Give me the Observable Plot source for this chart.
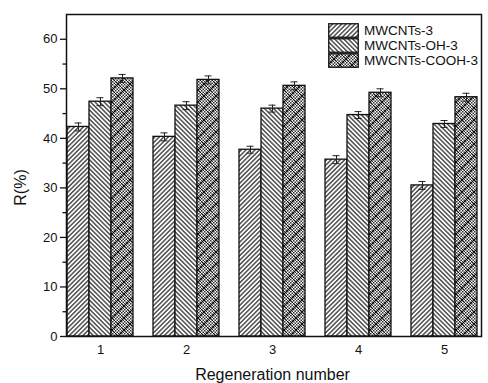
<!DOCTYPE html>
<html>
<head>
<meta charset="utf-8">
<script src="https://cdn.jsdelivr.net/npm/d3@7"></script>
<script src="https://cdn.jsdelivr.net/npm/@observablehq/plot@0.6"></script>
<style>
  body { margin: 0; background: #fff; }
  #chart { position: relative; width: 488px; height: 383px; overflow: hidden;
           font-family: "Liberation Sans", Arial, sans-serif; }
  #legend { position: absolute; left: 328px; top: 23px; }
  #legend .row { display: flex; align-items: center; height: 15px; font-size: 13.5px; color: #111; }
  #legend .row svg { margin-right: 5px; display: block; }
  #defs { position: absolute; width: 0; height: 0; }
</style>
</head>
<body>
<!-- hatch fills shared by the bars and the legend swatches -->
<svg id="defs" aria-hidden="true">
  <defs>
    <pattern id="hatch-fwd" patternUnits="userSpaceOnUse" width="3.2" height="3.2" patternTransform="rotate(45)">
      <rect width="3.2" height="3.2" fill="#fff"/>
      <line x1="0.8" y1="0" x2="0.8" y2="3.2" stroke="#222" stroke-width="1.2"/>
    </pattern>
    <pattern id="hatch-back" patternUnits="userSpaceOnUse" width="3.2" height="3.2" patternTransform="rotate(-45)">
      <rect width="3.2" height="3.2" fill="#fff"/>
      <line x1="0.8" y1="0" x2="0.8" y2="3.2" stroke="#222" stroke-width="1.2"/>
    </pattern>
    <pattern id="checker" patternUnits="userSpaceOnUse" width="3" height="3">
      <rect width="3" height="3" fill="#fff"/>
      <rect width="1.5" height="1.5" fill="#333"/>
      <rect x="1.5" y="1.5" width="1.5" height="1.5" fill="#333"/>
    </pattern>
    <pattern id="hatch-cross" patternUnits="userSpaceOnUse" width="12" height="12">
      <rect width="12" height="12" fill="url(#checker)"/>
      <path d="M0,0L12,12M12,0L0,12M-1,11L1,13M11,-1L13,1M-1,1L1,-1M11,13L13,11" stroke="#111" stroke-width="1"/>
    </pattern>
  </defs>
</svg>

<div id="chart">
  <div id="legend"></div>
</div>

<script>
// Regeneration cycles and the three adsorbents
const cycles = [1, 2, 3, 4, 5];
const series = ["MWCNTs-3", "MWCNTs-OH-3", "MWCNTs-COOH-3"];

// Removal rate R (%) per cycle
const rMWCNTs     = [42.3, 40.3, 37.7, 35.7, 30.5];
const rMWCNTsOH   = [47.4, 46.6, 46.0, 44.7, 42.9];
const rMWCNTsCOOH = [52.1, 51.8, 50.6, 49.2, 48.3];

// Error bar half-widths
const eMWCNTs     = [0.8, 0.8, 0.7, 0.8, 0.8];
const eMWCNTsOH   = [0.8, 0.8, 0.7, 0.7, 0.7];
const eMWCNTsCOOH = [0.8, 0.8, 0.8, 0.8, 0.8];

// Axis ticks
const yTicks = [0, 10, 20, 30, 40, 50, 60];
const yMinorTicks = [5, 15, 25, 35, 45, 55];

const fills = ["url(#hatch-fwd)", "url(#hatch-back)", "url(#hatch-cross)"];

const values = [rMWCNTs, rMWCNTsOH, rMWCNTsCOOH];
const errors = [eMWCNTs, eMWCNTsOH, eMWCNTsCOOH];
const rows = cycles.flatMap((c, i) =>
  series.map((s, j) => ({cycle: c, series: s, value: values[j][i], err: errors[j][i]}))
);

const chart = Plot.plot({
  width: 488,
  height: 383,
  marginLeft: 56,
  marginTop: 14,
  marginBottom: 47,
  marginRight: -1,
  style: {fontFamily: "'Liberation Sans', Arial, sans-serif", fontSize: "13px", color: "#111", background: "#fff", overflow: "visible"},
  fx: {domain: cycles, paddingInner: 0.205, paddingOuter: 0.1025},
  x: {domain: series, padding: 0, axis: null},
  y: {domain: [0, 65]},
  color: {domain: series, range: fills},
  marks: [
    Plot.barY(rows, {fx: "cycle", x: "series", y: "value", fill: "series", stroke: "#111", strokeWidth: 1.3}),
    Plot.ruleX(rows, {fx: "cycle", x: "series", y1: d => d.value - d.err, y2: d => d.value + d.err, stroke: "#222", strokeWidth: 1}),
    Plot.tickY(rows, {fx: "cycle", x: "series", y: d => d.value + d.err, insetLeft: 7.5, insetRight: 7.5, stroke: "#222", strokeWidth: 1}),
    Plot.tickY(rows, {fx: "cycle", x: "series", y: d => d.value - d.err, insetLeft: 7.5, insetRight: 7.5, stroke: "#222", strokeWidth: 1}),
    Plot.axisY({ticks: yTicks, tickSize: 6, tickPadding: 3, label: null, strokeWidth: 1.3}),
    Plot.axisY({ticks: yMinorTicks, tickSize: 3.5, text: null, label: null, strokeWidth: 1.3}),
    Plot.axisFx({anchor: "bottom", tickSize: 0, tickPadding: 8, label: null}),
    // outer frame: left, top and bottom edges (the right edge lies just past the SVG)
    Plot.frame({facet: "super", stroke: "#111", strokeWidth: 1.5, insetRight: -3}),
    Plot.text(["R(%)"], {facet: "super", text: d => d, frameAnchor: "left", textAnchor: "middle", lineAnchor: "middle", rotate: -90, dx: -46, dy: 12, fontSize: 16}),
    Plot.text(["Regeneration number"], {facet: "super", text: d => d, frameAnchor: "bottom", textAnchor: "middle", lineAnchor: "middle", dy: 38, fontSize: 16})
  ]
});

const container = document.getElementById("chart");
container.insertBefore(chart, container.firstChild);

// Legend: hatched swatches with series names
const legend = d3.select("#legend");
series.forEach((s, j) => {
  const row = legend.append("div").attr("class", "row");
  const sw = row.append("svg").attr("width", 31).attr("height", 15);
  sw.append("rect").attr("x", 0.75).attr("y", 0.75).attr("width", 29.5).attr("height", 13.5)
    .attr("fill", fills[j]).attr("stroke", "#111").attr("stroke-width", 1.3);
  row.append("span").text(s);
});
</script>
</body>
</html>
